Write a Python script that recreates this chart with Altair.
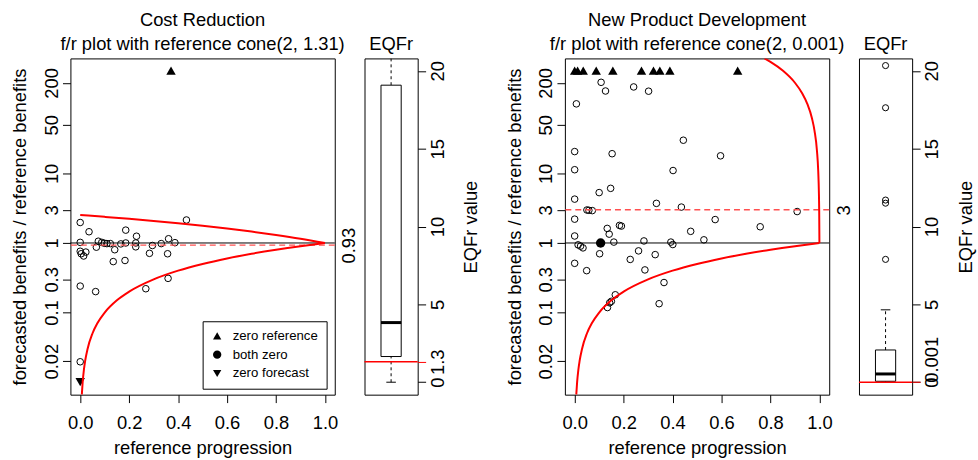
import altair as alt
import pandas as pd

FONT = "Liberation Sans"
FS = 18.5

# ---------------- Cost Reduction: f/r points ----------------
cr_x = [0.0, 0.036, 0.186, 0.434, 0.0, 0.230, 0.227, 0.227, 0.074, 0.088, 0.099, 0.109,
        0.123, 0.066, 0.141, 0.166, 0.186, 0.135, 0.183, 0.283, 0.295, 0.331, 0.361, 0.387,
        0.357, 0.0, 0.004, 0.014, 0.023, 0.0, 0.063, 0.268, 0.359, 0.0]
cr_y = [1.97, 1.45, 1.53, 2.14, 1.02, 1.25, 1.00, 0.88, 1.06, 1.02, 0.99, 0.98,
        0.98, 0.87, 0.80, 0.97, 1.00, 0.54, 0.56, 0.71, 0.92, 0.98, 1.15, 1.01,
        0.70, 0.76, 0.70, 0.65, 0.74, 0.24, 0.20, 0.22, 0.31, 0.0196]
cr_special_kind = ["zero reference", "zero forecast"]
cr_special_x = [0.371, 0.0]
cr_special_y = [300, 0.01]

# reference cone(2, 1.31)
cr_upper_x = [0.0, 0.1, 0.2, 0.3, 0.4, 0.5, 0.6, 0.7, 0.8, 0.9, 1.0]
cr_upper_y = [2.527, 2.374, 2.222, 2.069, 1.916, 1.764, 1.611, 1.458, 1.305, 1.153, 1.0]
cone_lower_x = [0.0066, 0.01, 0.015, 0.02, 0.03, 0.05, 0.07, 0.1, 0.15, 0.2, 0.3, 0.4,
                0.5, 0.6, 0.7, 0.8, 0.9, 1.0]
cone_lower_y = [0.0066, 0.01, 0.015, 0.02, 0.03, 0.05, 0.07, 0.1, 0.15, 0.2, 0.3, 0.4,
                0.5, 0.6, 0.7, 0.8, 0.9, 1.0]
cr_median_fr = 0.93
cr_median_label = "0.93"

# EQFr boxplot (Cost Reduction)
cr_box = [0.0, 1.65, 3.83, 19.08, 21.0]   # lower whisker, Q1, median, Q3, upper whisker
cr_outliers = []
cr_eqf = 1.31
cr_eqf_label = "1.3"

# ---------------- New Product Development ----------------
npd_x = [0.108, 0.126, 0.241, 0.302, 0.007, 0.444, 0.0, 0.153, 0.596, 0.0, 0.402, 0.147,
         0.100, 0.0, 0.334, 0.436, 0.050, 0.058, 0.072, 0.0, 0.133, 0.141, 0.183, 0.191,
         0.0, 0.014, 0.024, 0.034, 0.160, 0.283, 0.393, 0.401, 0.474, 0.528, 0.574, 0.758,
         0.909, 0.102, 0.261, 0.329, 0.227, 0.0, 0.049, 0.287, 0.365, 0.166, 0.150, 0.143,
         0.134, 0.345]
npd_y = [204, 153, 175, 152, 100, 30, 20.6, 19.2, 17.9, 11.3, 11.0, 6.1,
         5.3, 4.27, 3.71, 3.28, 2.98, 2.95, 2.92, 2.2, 1.62, 1.34, 1.79, 1.75,
         1.26, 0.94, 0.90, 0.85, 1.03, 1.07, 1.03, 0.95, 1.47, 1.11, 2.17, 1.71,
         2.83, 0.70, 0.77, 0.68, 0.58, 0.51, 0.40, 0.41, 0.27, 0.18, 0.145, 0.138,
         0.118, 0.134]
npd_special_kind = ["zero reference"] * 10 + ["both zero"]
npd_special_x = [0.0, 0.012, 0.035, 0.088, 0.156, 0.273, 0.322, 0.348, 0.389, 0.666, 0.106]
npd_special_y = [300, 300, 300, 300, 300, 300, 300, 300, 300, 300, 1.0]

# reference cone(2, 0.001)
npd_upper_x = [0.7755, 0.8, 0.85, 0.9, 0.93, 0.95, 0.97, 0.98, 0.99, 0.995, 0.998, 0.999, 1.0]
npd_upper_y = [450, 401, 301, 201, 141, 101, 61, 41, 21, 11, 5, 3, 1]
npd_median_fr = 3
npd_median_label = "3"

npd_box = [0.0, 0.06, 0.53, 2.07, 4.65]
npd_outliers = [7.89, 11.5, 11.7, 17.63, 20.34]
npd_eqf = 0.001
npd_eqf_label = "\u00a00.001"

kinds = ["zero reference", "both zero", "zero forecast"]
kind_shapes = ["triangle-up", "circle", "triangle-down"]

MAIN_W, BOX_W, H = 266.5, 53.6, 339


def main_panel(title_lines, px, py, skind, sx, sy, ux, uy, ref_val, ref_label, show_legend):
    xs = alt.Scale(domain=[-0.04, 1.04], nice=False, zero=False)
    ys = alt.Scale(type="log", domain=[0.0066, 450], nice=False)
    x_axis = alt.Axis(values=[0, 0.2, 0.4, 0.6, 0.8, 1.0], format=".1f",
                      title="reference progression", grid=False, domain=False,
                      tickSize=8, tickColor="black", labelFontSize=FS, labelPadding=11,
                      labelFlush=False, titleFontSize=FS, titleFontWeight="normal",
                      titlePadding=7)
    y_axis = alt.Axis(orient="left", values=[0.02, 0.1, 0.3, 1, 3, 10, 50, 200], format="~g",
                      title="forecasted benefits / reference benefits", grid=False,
                      domain=False, tickSize=8, tickColor="black", labelAngle=270,
                      labelAlign="center", labelBaseline="alphabetic", labelPadding=5,
                      labelFontSize=FS, labelOverlap=False, labelFlush=False,
                      titleFontSize=FS, titleFontWeight="normal", titlePadding=13)
    ref_axis = alt.Axis(orient="right", values=[ref_val], labelExpr=f"'{ref_label}'",
                        ticks=False, domain=False, grid=False, title=None,
                        labelAngle=270, labelAlign="center", labelBaseline="top",
                        labelPadding=5, labelFontSize=FS, labelFlush=False)

    pts = pd.DataFrame({"x": px, "y": py})
    spec = pd.DataFrame({"x": sx, "y": sy, "kind": skind})
    cone = pd.DataFrame({
        "x": list(ux) + list(cone_lower_x),
        "y": list(uy) + list(cone_lower_y),
        "part": ["upper"] * len(ux) + ["lower"] * len(cone_lower_x),
    })
    one = pd.DataFrame({"y": [1.0]})
    ref = pd.DataFrame({"y": [ref_val]})

    circles = alt.Chart(pts).mark_point(shape="circle", filled=False, color="black",
                                        size=44, strokeWidth=1, opacity=1).encode(
        x=alt.X("x:Q", scale=xs, axis=x_axis),
        y=alt.Y("y:Q", scale=ys, axis=y_axis),
    )
    if show_legend:
        legend = alt.Legend(orient="none", legendX=133.3, legendY=265, title=None,
                            strokeColor="black", fillColor="white", padding=8,
                            labelFontSize=13.3, labelFont=FONT, labelColor="black",
                            symbolSize=70, symbolFillColor="black",
                            symbolStrokeColor="black", labelOffset=9, rowPadding=4)
    else:
        legend = None
    special = alt.Chart(spec).mark_point(filled=True, color="black", size=90,
                                         opacity=1).encode(
        x=alt.X("x:Q", scale=xs, axis=x_axis),
        y=alt.Y("y:Q", scale=ys, axis=None),
        shape=alt.Shape("kind:N", scale=alt.Scale(domain=kinds, range=kind_shapes),
                        legend=legend),
    )
    hline = alt.Chart(one).mark_rule(color="black", strokeWidth=1).encode(
        y=alt.Y("y:Q", scale=ys, axis=None))
    refline = alt.Chart(ref).mark_rule(color="#ff5050", strokeWidth=1.4,
                                       strokeDash=[6, 4]).encode(
        y=alt.Y("y:Q", scale=ys, axis=ref_axis))
    cone_l = alt.Chart(cone).mark_line(color="red", strokeWidth=2, clip=True,
                                       interpolate="monotone").encode(
        x=alt.X("x:Q", scale=xs, axis=x_axis),
        y=alt.Y("y:Q", scale=ys, axis=None),
        detail="part:N",
        order="x:Q",
    )
    return alt.layer(circles, special, hline, refline, cone_l).resolve_axis(
        y="independent").properties(
        width=MAIN_W, height=H,
        title=alt.TitleParams(text=title_lines, fontSize=FS, fontWeight="normal",
                              lineHeight=24, offset=5, anchor="middle", font=FONT,
                              color="black"))


def box_panel(stats, outliers, eqf, eqf_label, eqf_align):
    lo, q1, med, q3, hi = stats
    xs = alt.Scale(domain=[0, 1], nice=False, zero=False)
    ys = alt.Scale(domain=[-0.8, 20.8], nice=False, zero=False)
    y_axis = alt.Axis(orient="right", values=[0, 5, 10, 15, 20, eqf], format="~g",
                      labelExpr=f"datum.value == {eqf} ? '{eqf_label}' : datum.label",
                      title="EQFr value", grid=False, domain=False, tickSize=8,
                      tickColor=alt.condition(f"datum.value == {eqf}", alt.value("red"),
                                              alt.value("black")),
                      labelAngle=270,
                      labelAlign=alt.condition(f"datum.value == {eqf}", alt.value(eqf_align),
                                               alt.value("center")),
                      labelBaseline="top",
                      labelPadding=3, labelOverlap=False, labelFlush=False,
                      labelFontSize=FS, titleFontSize=FS, titleFontWeight="normal",
                      titleAngle=270, titleBaseline="top", titlePadding=15)
    box = pd.DataFrame({"x0": [0.31], "x1": [0.69], "q1": [q1], "q3": [q3]})
    whisk = pd.DataFrame({"x": [0.5, 0.5], "y0": [q3, lo], "y1": [hi, q1]})
    caps = pd.DataFrame({"x0": [0.41, 0.41], "x1": [0.59, 0.59], "y": [hi, lo]})
    medd = pd.DataFrame({"x0": [0.31], "x1": [0.69], "y": [med]})
    outs = pd.DataFrame({"x": [0.5] * len(outliers), "y": list(outliers)})
    eq = pd.DataFrame({"y": [eqf]})

    w = alt.Chart(whisk).mark_rule(color="black", strokeWidth=1, strokeDash=[3, 3],
                                   clip=True).encode(
        x=alt.X("x:Q", scale=xs, axis=None),
        y=alt.Y("y0:Q", scale=ys, axis=None), y2="y1:Q")
    c = alt.Chart(caps).mark_rule(color="black", strokeWidth=1, clip=True).encode(
        x=alt.X("x0:Q", scale=xs, axis=None), x2="x1:Q",
        y=alt.Y("y:Q", scale=ys, axis=None))
    b = alt.Chart(box).mark_rect(fill="white", stroke="black", strokeWidth=1,
                                 clip=True).encode(
        x=alt.X("x0:Q", scale=xs, axis=None), x2="x1:Q",
        y=alt.Y("q1:Q", scale=ys, axis=None), y2="q3:Q")
    m = alt.Chart(medd).mark_rule(color="black", strokeWidth=3).encode(
        x=alt.X("x0:Q", scale=xs, axis=None), x2="x1:Q",
        y=alt.Y("y:Q", scale=ys, axis=None))
    o = alt.Chart(outs).mark_point(shape="circle", filled=False, color="black", size=38,
                                   strokeWidth=1, opacity=1).encode(
        x=alt.X("x:Q", scale=xs, axis=None),
        y=alt.Y("y:Q", scale=ys, axis=None))
    r = alt.Chart(eq).mark_rule(color="red", strokeWidth=1.5).encode(
        y=alt.Y("y:Q", scale=ys, axis=y_axis))
    return alt.layer(w, c, b, m, o, r).resolve_axis(y="independent").properties(
        width=BOX_W, height=H,
        title=alt.TitleParams(text="EQFr", fontSize=FS, fontWeight="normal", offset=5,
                              anchor="middle", font=FONT, color="black"))


m1 = main_panel(["Cost Reduction", "f/r plot with reference cone(2, 1.31)"],
                cr_x, cr_y, cr_special_kind, cr_special_x, cr_special_y,
                cr_upper_x, cr_upper_y, cr_median_fr, cr_median_label, True)
b1 = box_panel(cr_box, cr_outliers, cr_eqf, cr_eqf_label, "center")
m2 = main_panel(["New Product Development", "f/r plot with reference cone(2, 0.001)"],
                npd_x, npd_y, npd_special_kind, npd_special_x, npd_special_y,
                npd_upper_x, npd_upper_y, npd_median_fr, npd_median_label, False)
b2 = box_panel(npd_box, npd_outliers, npd_eqf, npd_eqf_label, "left")

spacer = alt.Chart(pd.DataFrame({"v": [0]})).mark_point(opacity=0).encode(
    x=alt.value(0), y=alt.value(0)).properties(
    width=88.7, height=H, view=alt.ViewBackground(stroke="transparent"))

chart = alt.hconcat(m1, b1, spacer, m2, b2, spacing=29.5, bounds="flush").resolve_scale(
    shape="independent").resolve_legend(shape="independent").properties(
    padding={"left": 10, "top": 9, "right": 2, "bottom": 2}
).configure(font=FONT).configure_view(stroke="black", strokeWidth=1).configure_axis(
    labelFont=FONT, titleFont=FONT, labelColor="black", titleColor="black"
).configure_title(font=FONT, color="black")

chart.save("out.html", embed_options={"renderer": "svg", "actions": False})
